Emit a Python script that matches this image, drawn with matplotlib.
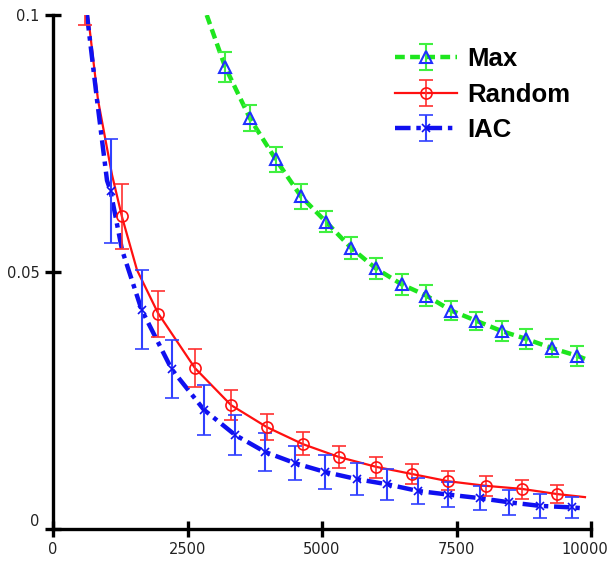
import matplotlib
matplotlib.use('Agg')
import matplotlib.pyplot as plt
from matplotlib.transforms import ScaledTranslation

# marker points with error bars
max_x = [3200, 3660, 4140, 4610, 5070, 5540, 6000, 6480, 6940, 7400, 7870, 8340, 8790, 9270, 9740]
max_y = [0.0899, 0.0799, 0.0719, 0.0647, 0.0598, 0.0547, 0.0507, 0.0476, 0.0454, 0.0425, 0.0405, 0.0385, 0.0370, 0.0352, 0.0337]
max_err = [0.0029, 0.0025, 0.0025, 0.0024, 0.0021, 0.0021, 0.0021, 0.0020, 0.0021, 0.0018, 0.0018, 0.0019, 0.0019, 0.0018, 0.0020]

rand_x = [600, 1290, 1960, 2640, 3310, 3980, 4650, 5320, 6000, 6670, 7340, 8050, 8710, 9370]
rand_y = [0.107, 0.0608, 0.0419, 0.0314, 0.0241, 0.0199, 0.0166, 0.0140, 0.0120, 0.0107, 0.0094, 0.0084, 0.0077, 0.0068]
rand_err = [0.0090, 0.0064, 0.0045, 0.0037, 0.0029, 0.0025, 0.0023, 0.0022, 0.0021, 0.0020, 0.0019, 0.0019, 0.0018, 0.0018]

iac_x = [1070, 1645, 2205, 2805, 3385, 3940, 4500, 5055, 5650, 6210, 6785, 7340, 7935, 8475, 9050, 9645]
iac_y = [0.0658, 0.0427, 0.0311, 0.0232, 0.0183, 0.0150, 0.0128, 0.0111, 0.0097, 0.0087, 0.0074, 0.0067, 0.0060, 0.0052, 0.0045, 0.0042]
iac_err = [0.0101, 0.0076, 0.0057, 0.0049, 0.0039, 0.0037, 0.0033, 0.0033, 0.0031, 0.0030, 0.0026, 0.0025, 0.0024, 0.0024, 0.0023, 0.0020]

# fitted curves
max_cx = [2857, 3043, 3200, 3660, 4140, 4610, 5070, 5540, 6000, 6480, 6940, 7400, 7870, 8340, 8790, 9270, 9740, 9888]
max_cy = [0.1000, 0.0945, 0.0899, 0.0799, 0.0719, 0.0647, 0.0598, 0.0547, 0.0507, 0.0476, 0.0454, 0.0425, 0.0405, 0.0385, 0.0370, 0.0352, 0.0337, 0.0331]

rand_cx = [650, 836, 1097, 1283, 1561, 1952, 2639, 3309, 3978, 4647, 5316, 6004, 6673, 7342, 8048, 8717, 9368, 9888]
rand_cy = [0.1000, 0.0835, 0.0689, 0.0607, 0.0504, 0.0420, 0.0313, 0.0241, 0.0198, 0.0165, 0.0140, 0.0121, 0.0107, 0.0093, 0.0084, 0.0078, 0.0068, 0.0062]

iac_cx = [632, 818, 1004, 1069, 1283, 1645, 2205, 2805, 3385, 3940, 4500, 5055, 5650, 6210, 6785, 7340, 7935, 8475, 9050, 9645, 9888]
iac_cy = [0.1000, 0.0835, 0.0678, 0.0658, 0.0543, 0.0427, 0.0311, 0.0232, 0.0183, 0.0150, 0.0128, 0.0111, 0.0097, 0.0087, 0.0074, 0.0067, 0.0060, 0.0052, 0.0045, 0.0042, 0.0040]

xticks = [0, 2500, 5000, 7500, 10000]
xlabels = ['0', '2500', '5000', '7500', '10000']
yticks = [0, 0.05, 0.1]
ylabels = ['0', '0.05', '0.1']

fig = plt.figure(figsize=(6.11, 5.62), dpi=100)
ax = fig.add_axes([53/611, 33/562, 538/611, 514/562])

green = '#1ee61e'
red = '#ff1010'
blue = '#1010f0'

l_max, = ax.plot(max_cx, max_cy, color=green, lw=3.2, ls=(0, (2.2, 1.2)), zorder=2)
e_max = ax.errorbar(max_x, max_y, yerr=max_err, fmt='^', ms=9, mfc='none', mec='#2030ff',
                    mew=1.5, ecolor='#40f040', elinewidth=1.5, capsize=5, capthick=1.5, zorder=3)

l_rand, = ax.plot(rand_cx, rand_cy, color=red, lw=1.6, zorder=2)
e_rand = ax.errorbar(rand_x, rand_y, yerr=rand_err, fmt='o', ms=8, mfc='none', mec=red,
                     mew=1.2, ecolor='#ff3030', elinewidth=1.2, capsize=5, capthick=1.2, zorder=3)

l_iac, = ax.plot(iac_cx, iac_cy, color=blue, lw=3.2, ls=(0, (3.5, 1.3, 1.0, 1.3)), zorder=2)
e_iac = ax.errorbar(iac_x, iac_y, yerr=iac_err, fmt='x', ms=6, mec=blue, mew=1.2,
                    ecolor='#3040ff', elinewidth=1.5, capsize=5, capthick=1.5, zorder=3)

ax.set_xlim(0, 10000)
ax.set_ylim(0, 0.1)
for s in ['top', 'right']:
    ax.spines[s].set_visible(False)
for s in ['left', 'bottom']:
    ax.spines[s].set_linewidth(2.4)

ax.set_xticks(xticks)
ax.set_xticklabels(xlabels)
ax.set_yticks(yticks)
ax.set_yticklabels(ylabels)
ax.tick_params(direction='inout', length=11, width=2.4, labelsize=10.5, labelcolor='#222222', pad=4)
ax.get_yticklabels()[0].set_va('bottom')
last = ax.get_xticklabels()[-1]
last.set_transform(last.get_transform() + ScaledTranslation(-6/100, 0, fig.dpi_scale_trans))

leg = ax.legend([(l_max, e_max), (l_rand, e_rand), (l_iac, e_iac)], ['Max', 'Random', 'IAC'],
                loc='upper left', bbox_to_anchor=(372/611, 1 - 24/562), bbox_transform=fig.transFigure,
                frameon=False, handlelength=2.4, handletextpad=0.4, labelspacing=0.45,
                prop={'family': 'Liberation Sans', 'weight': 'bold', 'size': 18.5})

fig.savefig('out.png', dpi=100)
